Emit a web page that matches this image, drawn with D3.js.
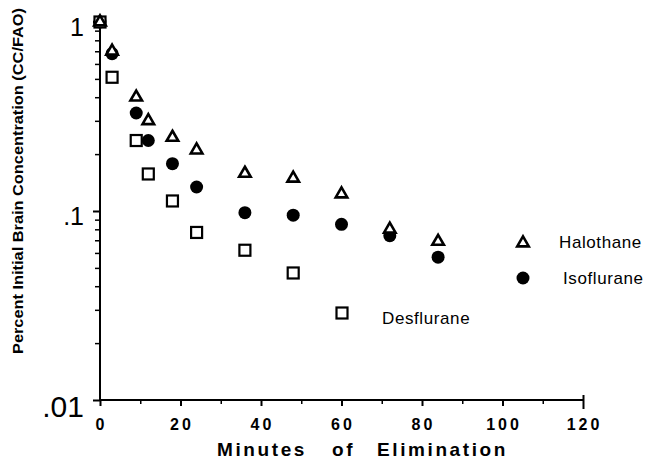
<!DOCTYPE html>
<html><head><meta charset="utf-8">
<script src="https://cdn.jsdelivr.net/npm/d3@7"></script>
<style>body{margin:0;background:#fff}svg{display:block}text{font-family:"Liberation Sans",Arial,sans-serif;fill:#000}</style>
</head><body>
<script>
const minutes = [0, 3, 9, 12, 18, 24, 36, 48, 60, 72, 84];
const halothane = [1, 0.70, 0.40, 0.30, 0.245, 0.21, 0.158, 0.149, 0.123, 0.080, 0.069];
const isoflurane = [1, 0.68, 0.33, 0.236, 0.178, 0.134, 0.098, 0.095, 0.085, 0.074, 0.057];
const desMinutes = [0, 3, 9, 12, 18, 24, 36, 48];
const desflurane = [1, 0.51, 0.236, 0.157, 0.113, 0.077, 0.062, 0.047];
const xTicks = [0, 20, 40, 60, 80, 100, 120];
const xMinor = [10, 30, 50, 70, 90, 110];
const yTicks = [1, 0.1, 0.01];
const yTickLabels = ["1", ".1", ".01"];
const legendNames = ["Halothane", "Isoflurane", "Desflurane"];

const W = 645, H = 473;
const svg = d3.select("body").append("svg").attr("width", W).attr("height", H);
const x = d3.scaleLinear().domain([0, 120]).range([100, 583]);
const y = d3.scaleLog().domain([0.01, 1]).range([400, 22]);

// y axis
const yMinor = [];
[0.01, 0.1].forEach(d => { for (let k = 2; k <= 9; k++) yMinor.push(d * k); });
const yAx = svg.append("g").attr("transform", `translate(${x(0)},0)`)
  .call(d3.axisLeft(y).tickValues(yTicks).tickSize(7).tickFormat(""));
yAx.select(".domain").attr("stroke-width", 2).attr("d", `M-7,${y(1)}H0V${y(0.01)}`);
yAx.selectAll(".tick line").attr("stroke-width", 2);
svg.append("g").attr("transform", `translate(${x(0)},0)`)
  .call(d3.axisLeft(y).tickValues(yMinor).tickSize(5).tickFormat(""))
  .call(g => { g.select(".domain").remove(); g.selectAll(".tick line").attr("stroke-width", 1.5); });
const ySizes = [25, 25, 30];
const yBase = [14, 14, 17];
svg.append("g").selectAll("text").data(yTicks).join("text")
  .attr("x", 84).attr("y", (d, i) => y(d) + yBase[i])
  .attr("text-anchor", "end").attr("font-size", (d, i) => ySizes[i])
  .text((d, i) => yTickLabels[i]);

// x axis
const xAx = svg.append("g").attr("transform", `translate(0,${y(0.01)})`)
  .call(d3.axisBottom(x).tickValues(xTicks).tickSize(6).tickFormat(""));
xAx.select(".domain").attr("stroke-width", 2).attr("d", `M${x(0)},0H${x(120)}`);
xAx.selectAll(".tick line").attr("stroke-width", 2);
xAx.selectAll(".tick").filter(d => d === 120).select("line").attr("y1", -5).attr("y2", 9);
svg.append("g").attr("transform", `translate(0,${y(0.01)})`)
  .call(d3.axisBottom(x).tickValues(xMinor).tickSize(4).tickFormat(""))
  .call(g => { g.select(".domain").remove(); g.selectAll(".tick line").attr("stroke-width", 1.5); });
svg.append("g").selectAll("text").data(xTicks).join("text")
  .attr("x", d => x(d) + 1.5).attr("y", 430)
  .attr("text-anchor", "middle").attr("font-size", 16).attr("font-weight", "bold")
  .attr("letter-spacing", 3).text(d => d);

// axis titles
const xt = svg.append("text").attr("y", 456).attr("font-size", 19).attr("font-weight", "bold").attr("letter-spacing", 2.6);
xt.append("tspan").attr("x", 217).text("Minutes");
xt.append("tspan").attr("x", 332).text("of");
xt.append("tspan").attr("x", 377).text("Elimination");
svg.append("text").attr("transform", "translate(23,181) rotate(-90)")
  .attr("text-anchor", "middle").attr("font-size", 14).attr("font-weight", "bold")
  .attr("textLength", 346).attr("lengthAdjust", "spacingAndGlyphs")
  .text("Percent Initial Brain Concentration (CC/FAO)");

// markers
const tri = d3.symbol().type(d3.symbolTriangle).size(58);
function drawTri(g, cx, cy) {
  g.append("path").attr("d", tri()).attr("transform", `translate(${cx},${cy})`)
    .attr("fill", "#fff").attr("stroke", "#000").attr("stroke-width", 2.6).attr("stroke-linejoin", "miter");
}
function drawCirc(g, cx, cy) {
  g.append("circle").attr("cx", cx).attr("cy", cy).attr("r", 6.5).attr("fill", "#000");
}
function drawSq(g, cx, cy) {
  g.append("rect").attr("x", cx - 5.5).attr("y", cy - 5.5).attr("width", 11).attr("height", 11)
    .attr("fill", "#fff").attr("stroke", "#000").attr("stroke-width", 2.2);
}
const pts = svg.append("g");
isoflurane.forEach((v, i) => drawCirc(pts, x(minutes[i]), y(v)));
desflurane.forEach((v, i) => drawSq(pts, x(desMinutes[i]), y(v)));
halothane.forEach((v, i) => drawTri(pts, x(minutes[i]), y(v)));

// legend
const lg = svg.append("g");
drawTri(lg, 523, 243);
drawCirc(lg, 523, 278);
drawSq(lg, 342, 313);
lg.append("text").attr("x", 559).attr("y", 248).attr("font-size", 17).attr("letter-spacing", 0.6).text(legendNames[0]);
lg.append("text").attr("x", 563).attr("y", 284).attr("font-size", 17).attr("letter-spacing", 0.6).text(legendNames[1]);
lg.append("text").attr("x", 382).attr("y", 324).attr("font-size", 17).attr("letter-spacing", 0.6).text(legendNames[2]);
</script>
</body></html>
